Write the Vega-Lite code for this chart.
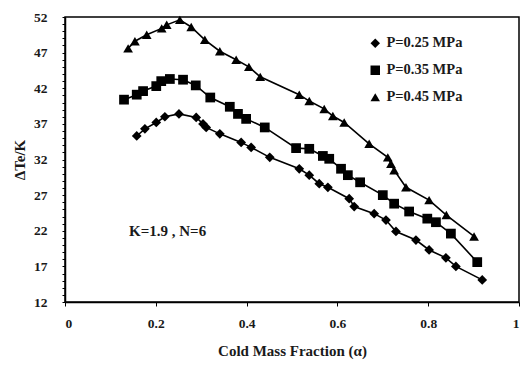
{
  "$schema": "https://vega.github.io/schema/vega-lite/v6.json",
  "autosize": "none",
  "width": 454,
  "height": 285,
  "padding": {"left": 65, "top": 17, "right": 4, "bottom": 70},
  "background": "white",
  "config": {
    "font": "Liberation Serif",
    "view": {"stroke": "black", "strokeWidth": 1.5},
    "axis": {"grid": false, "domain": true, "domainColor": "black", "domainWidth": 1.5, "tickColor": "black", "labelColor": "#1a1a1a", "titleColor": "#1a1a1a", "labelFont": "Liberation Serif", "titleFont": "Liberation Serif", "labelFontWeight": "bold", "titleFontWeight": "bold", "labelFontSize": 13.5, "titleFontSize": 15, "labelOverlap": false}
  },
  "datasets": {
    "pts": [
      {"s": "P=0.25 MPa", "x": 0.158, "y": 35.3},
      {"s": "P=0.25 MPa", "x": 0.176, "y": 36.3},
      {"s": "P=0.25 MPa", "x": 0.201, "y": 37.2},
      {"s": "P=0.25 MPa", "x": 0.22, "y": 38.0},
      {"s": "P=0.25 MPa", "x": 0.251, "y": 38.4},
      {"s": "P=0.25 MPa", "x": 0.289, "y": 37.9},
      {"s": "P=0.25 MPa", "x": 0.304, "y": 37.0},
      {"s": "P=0.25 MPa", "x": 0.311, "y": 36.5},
      {"s": "P=0.25 MPa", "x": 0.341, "y": 35.6},
      {"s": "P=0.25 MPa", "x": 0.388, "y": 34.4},
      {"s": "P=0.25 MPa", "x": 0.41, "y": 33.7},
      {"s": "P=0.25 MPa", "x": 0.451, "y": 32.3},
      {"s": "P=0.25 MPa", "x": 0.516, "y": 30.7},
      {"s": "P=0.25 MPa", "x": 0.538, "y": 29.8},
      {"s": "P=0.25 MPa", "x": 0.56, "y": 28.6},
      {"s": "P=0.25 MPa", "x": 0.579, "y": 28.1},
      {"s": "P=0.25 MPa", "x": 0.626, "y": 26.5},
      {"s": "P=0.25 MPa", "x": 0.637, "y": 25.4},
      {"s": "P=0.25 MPa", "x": 0.681, "y": 24.4},
      {"s": "P=0.25 MPa", "x": 0.707, "y": 23.5},
      {"s": "P=0.25 MPa", "x": 0.729, "y": 21.9},
      {"s": "P=0.25 MPa", "x": 0.773, "y": 20.7},
      {"s": "P=0.25 MPa", "x": 0.802, "y": 19.3},
      {"s": "P=0.25 MPa", "x": 0.839, "y": 18.2},
      {"s": "P=0.25 MPa", "x": 0.861, "y": 17.0},
      {"s": "P=0.25 MPa", "x": 0.919, "y": 15.1},
      {"s": "P=0.35 MPa", "x": 0.13, "y": 40.4},
      {"s": "P=0.35 MPa", "x": 0.158, "y": 41.1},
      {"s": "P=0.35 MPa", "x": 0.172, "y": 41.6},
      {"s": "P=0.35 MPa", "x": 0.201, "y": 42.3},
      {"s": "P=0.35 MPa", "x": 0.212, "y": 43.0},
      {"s": "P=0.35 MPa", "x": 0.231, "y": 43.3},
      {"s": "P=0.35 MPa", "x": 0.26, "y": 43.2},
      {"s": "P=0.35 MPa", "x": 0.288, "y": 42.4},
      {"s": "P=0.35 MPa", "x": 0.32, "y": 40.7},
      {"s": "P=0.35 MPa", "x": 0.363, "y": 39.4},
      {"s": "P=0.35 MPa", "x": 0.381, "y": 38.4},
      {"s": "P=0.35 MPa", "x": 0.399, "y": 37.7},
      {"s": "P=0.35 MPa", "x": 0.44, "y": 36.5},
      {"s": "P=0.35 MPa", "x": 0.509, "y": 33.6},
      {"s": "P=0.35 MPa", "x": 0.538, "y": 33.5},
      {"s": "P=0.35 MPa", "x": 0.568, "y": 32.5},
      {"s": "P=0.35 MPa", "x": 0.582, "y": 32.1},
      {"s": "P=0.35 MPa", "x": 0.608, "y": 30.7},
      {"s": "P=0.35 MPa", "x": 0.623, "y": 29.8},
      {"s": "P=0.35 MPa", "x": 0.65, "y": 28.8},
      {"s": "P=0.35 MPa", "x": 0.70, "y": 27.0},
      {"s": "P=0.35 MPa", "x": 0.725, "y": 25.8},
      {"s": "P=0.35 MPa", "x": 0.758, "y": 24.7},
      {"s": "P=0.35 MPa", "x": 0.798, "y": 23.7},
      {"s": "P=0.35 MPa", "x": 0.817, "y": 23.2},
      {"s": "P=0.35 MPa", "x": 0.85, "y": 21.6},
      {"s": "P=0.35 MPa", "x": 0.908, "y": 17.6},
      {"s": "P=0.45 MPa", "x": 0.139, "y": 47.6},
      {"s": "P=0.45 MPa", "x": 0.154, "y": 48.6},
      {"s": "P=0.45 MPa", "x": 0.18, "y": 49.5},
      {"s": "P=0.45 MPa", "x": 0.213, "y": 50.4},
      {"s": "P=0.45 MPa", "x": 0.224, "y": 50.9},
      {"s": "P=0.45 MPa", "x": 0.253, "y": 51.6},
      {"s": "P=0.45 MPa", "x": 0.278, "y": 50.6},
      {"s": "P=0.45 MPa", "x": 0.308, "y": 48.8},
      {"s": "P=0.45 MPa", "x": 0.341, "y": 47.2},
      {"s": "P=0.45 MPa", "x": 0.377, "y": 46.0},
      {"s": "P=0.45 MPa", "x": 0.405, "y": 45.0},
      {"s": "P=0.45 MPa", "x": 0.43, "y": 43.6},
      {"s": "P=0.45 MPa", "x": 0.516, "y": 41.1},
      {"s": "P=0.45 MPa", "x": 0.538, "y": 40.2},
      {"s": "P=0.45 MPa", "x": 0.571, "y": 39.1},
      {"s": "P=0.45 MPa", "x": 0.59, "y": 38.1},
      {"s": "P=0.45 MPa", "x": 0.615, "y": 37.2},
      {"s": "P=0.45 MPa", "x": 0.67, "y": 34.2},
      {"s": "P=0.45 MPa", "x": 0.711, "y": 32.3},
      {"s": "P=0.45 MPa", "x": 0.718, "y": 31.4},
      {"s": "P=0.45 MPa", "x": 0.725, "y": 30.5},
      {"s": "P=0.45 MPa", "x": 0.751, "y": 28.1},
      {"s": "P=0.45 MPa", "x": 0.802, "y": 26.3},
      {"s": "P=0.45 MPa", "x": 0.84, "y": 24.2},
      {"s": "P=0.45 MPa", "x": 0.901, "y": 21.2}
    ],
    "note": [{"x": 0.226, "y": 21.9, "t": "K=1.9 , N=6"}]
  },
  "encoding": {
    "x": {"field": "x", "type": "quantitative", "scale": {"domain": [0, 1], "nice": false}, "axis": {"title": "Cold Mass Fraction (α)", "values": [0, 0.2, 0.4, 0.6, 0.8, 1], "format": "~g", "tickSize": 4, "labelPadding": 10, "titlePadding": 14}},
    "y": {"field": "y", "type": "quantitative", "scale": {"domain": [12, 52], "nice": false, "zero": false}, "axis": {"title": "ΔTe/K", "values": [12,13,14,15,16,17,18,19,20,21,22,23,24,25,26,27,28,29,30,31,32,33,34,35,36,37,38,39,40,41,42,43,44,45,46,47,48,49,50,51,52], "labelExpr": "(datum.value - 12) % 5 == 0 ? datum.label : ''", "labelOverlap": false, "tickSize": 3, "labelPadding": 15, "titlePadding": 6}}
  },
  "layer": [
    {
      "data": {"name": "pts"},
      "mark": {"type": "line", "color": "black", "strokeWidth": 1.6},
      "encoding": {"detail": {"field": "s"}}
    },
    {
      "data": {"name": "pts"},
      "mark": {"type": "point", "filled": true, "color": "black", "opacity": 1},
      "encoding": {
        "shape": {"field": "s", "type": "nominal", "scale": {"domain": ["P=0.25 MPa", "P=0.35 MPa", "P=0.45 MPa"], "range": ["diamond", "square", "triangle-up"]}, "legend": {"title": null, "orient": "none", "legendX": 303, "legendY": 19, "labelFont": "Liberation Serif", "labelFontWeight": "bold", "labelFontSize": 14.5, "labelColor": "#1a1a1a", "symbolFillColor": "black", "symbolStrokeColor": "black", "symbolSize": 90, "rowPadding": 11, "fillColor": "white"}},
        "size": {"value": 95}
      }
    },
    {
      "data": {"name": "note"},
      "mark": {"type": "text", "font": "Liberation Serif", "fontWeight": "bold", "fontSize": 15, "color": "#1a1a1a"},
      "encoding": {"text": {"field": "t"}}
    }
  ]
}
